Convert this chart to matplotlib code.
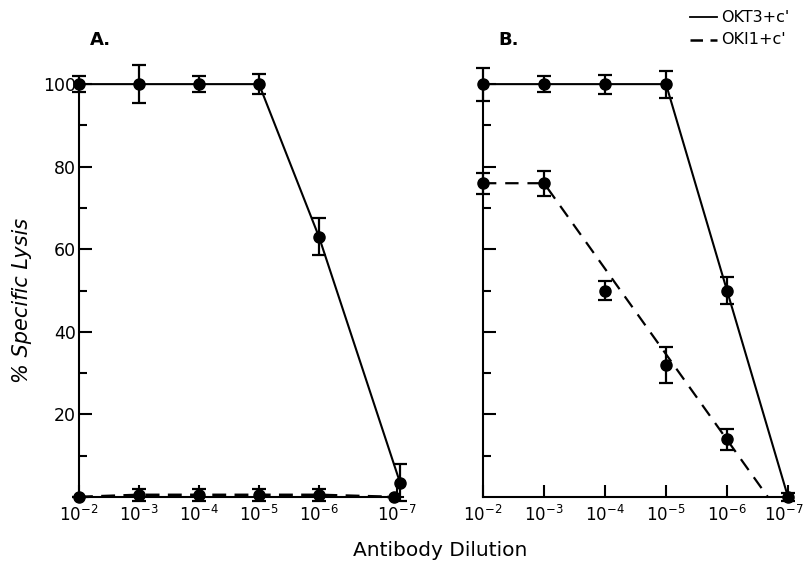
import matplotlib
matplotlib.use("Agg")
import matplotlib.pyplot as plt
from matplotlib.lines import Line2D

# ---- data ----
tick_labels = [r"$10^{-2}$", r"$10^{-3}$", r"$10^{-4}$", r"$10^{-5}$", r"$10^{-6}$", r"$10^{-7}$"]
a_ticks = [2, 3, 4, 5, 6, 7.3]
b_ticks = [2, 3, 4, 5, 6, 7]

# Panel A
a_okt3_x = [2, 3, 4, 5, 6, 7.35]
a_okt3_y = [100, 100, 100, 100, 63, 3.5]
a_okt3_err = [2, 4.6, 2, 2.5, 4.5, 4.5]
a_oki1_x = [2, 3, 4, 5, 6, 7.25]
a_oki1_y = [0, 0.5, 0.5, 0.5, 0.5, 0]
a_oki1_err = [0, 1.5, 1.5, 1.5, 1.5, 0]

# Panel B
b_okt3_x = [2, 3, 4, 5, 6, 7]
b_okt3_y = [100, 100, 100, 100, 50, 0]
b_okt3_err = [4, 2, 2.3, 3.3, 3.3, 1]
b_oki1_x = [2, 3, 4, 5, 6]
b_oki1_y = [76, 76, 50, 32, 14]
b_oki1_err = [2.5, 3, 2.3, 4.3, 2.5]
b_oki1_fit_x = [2, 3, 6.67]
b_oki1_fit_y = [76, 76, 0]

y_major = [20, 40, 60, 80, 100]
y_minor = [10, 30, 50, 70, 90]

plt.rcParams['font.family'] = ['DejaVu Sans']
fig = plt.figure(figsize=(8.04, 5.72), dpi=100)

W, H = 804, 572
y0px, ytop = 497, 80
def ax_rect(x0, x1):
    return [x0 / W, 1 - y0px / H, (x1 - x0) / W, (y0px - ytop) / H]

axA = fig.add_axes(ax_rect(79, 403))
axB = fig.add_axes(ax_rect(483, 788))

ekw = dict(color='black', capsize=5, elinewidth=1.6, capthick=1.6,
           markersize=8, clip_on=False, zorder=3)

def style(ax, ticks, xmax, labels_y):
    ax.set_xlim(2, xmax)
    ax.set_ylim(0, 101)
    for s in ['top', 'right']:
        ax.spines[s].set_visible(False)
    for s in ['left', 'bottom']:
        ax.spines[s].set_linewidth(1.5)
    ax.set_xticks(ticks)
    ax.set_xticklabels(tick_labels, fontsize=12)
    ax.set_yticks(y_major)
    ax.set_yticks(y_minor, minor=True)
    if labels_y:
        ax.set_yticklabels([str(v) for v in y_major], fontsize=12.5)
    else:
        ax.set_yticklabels([])
    ax.tick_params(axis='both', which='major', direction='in', length=9, width=1.5, pad=6)
    ax.tick_params(axis='y', which='minor', direction='in', length=6, width=1.5)
    ax.tick_params(axis='y', which='major', pad=2)

style(axA, a_ticks, 7.4, True)
style(axB, b_ticks, 7.0, False)

# Panel A
axA.plot(a_okt3_x, a_okt3_y, '-', color='black', lw=1.5, clip_on=False, zorder=2)
axA.errorbar(a_okt3_x, a_okt3_y, yerr=a_okt3_err, fmt='o', **ekw)
axA.plot(a_oki1_x, a_oki1_y, '--', color='black', lw=2, dashes=(5, 3), clip_on=False, zorder=2)
axA.errorbar(a_oki1_x, a_oki1_y, yerr=a_oki1_err, fmt='o', **ekw)

# Panel B
axB.plot(b_okt3_x, b_okt3_y, '-', color='black', lw=1.5, clip_on=False, zorder=2)
axB.errorbar(b_okt3_x, b_okt3_y, yerr=b_okt3_err, fmt='o', **ekw)
axB.plot(b_oki1_fit_x, b_oki1_fit_y, '--', color='black', lw=1.6, dashes=(6, 4), clip_on=False, zorder=2)
axB.errorbar(b_oki1_x, b_oki1_y, yerr=b_oki1_err, fmt='o', **ekw)

# nudge the last B tick label so it stays inside the figure
axB.get_xticklabels()[-1].set_horizontalalignment('right')
axB.get_xticklabels()[-1].set_x(7.0)
import matplotlib.transforms as mtransforms
lbl = axB.get_xticklabels()[-1]
lbl.set_transform(lbl.get_transform() + mtransforms.ScaledTranslation(16 / 100, 0, fig.dpi_scale_trans))

# Panel titles
fig.text(100 / W, 1 - 40 / H, "A.", fontsize=13, fontweight='bold', ha='center', va='center')
fig.text(509 / W, 1 - 40 / H, "B.", fontsize=13, fontweight='bold', ha='center', va='center')

# Axis labels
fig.text(22 / W, 1 - 300 / H, "% Specific Lysis", rotation=90, fontsize=15, style='italic',
         ha='center', va='center')
fig.text(440 / W, 1 - 550 / H, "Antibody Dilution", fontsize=14.5, ha='center', va='center')

# Legend (drawn manually)
fig.add_artist(Line2D([690 / W, 717 / W], [1 - 17 / H, 1 - 17 / H], color='black', lw=1.3))
fig.add_artist(Line2D([690 / W, 717 / W], [1 - 40 / H, 1 - 40 / H], color='black', lw=1.8,
                      dashes=(5, 3)))
fig.text(721 / W, 1 - 17 / H, "OKT3+c'", fontsize=11.5, ha='left', va='center')
fig.text(721 / W, 1 - 40 / H, "OKI1+c'", fontsize=11.5, ha='left', va='center')

fig.savefig("out.png", dpi=100)
